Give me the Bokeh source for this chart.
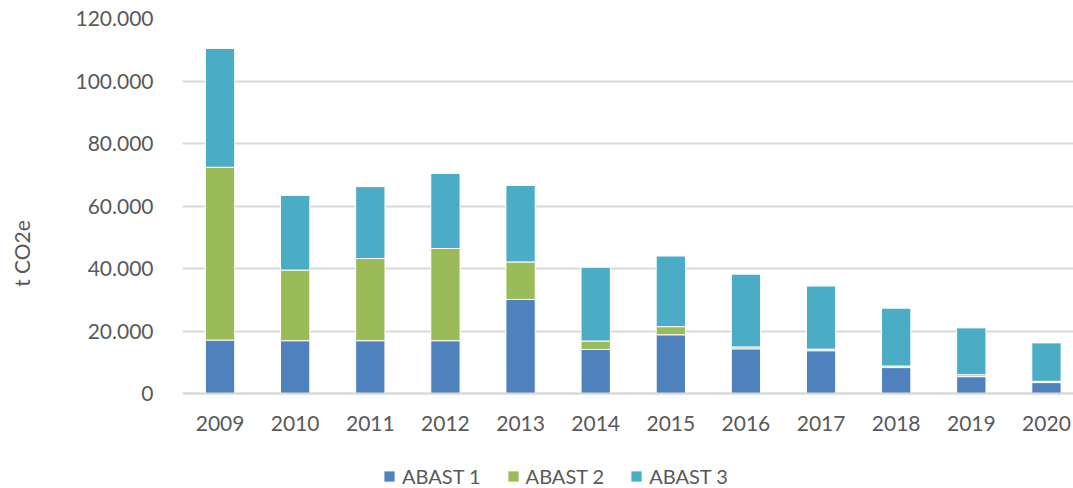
from bokeh.plotting import figure
from bokeh.models import ColumnDataSource, Range1d, FixedTicker, Legend, LegendItem
from bokeh.embed import file_html
from bokeh.resources import INLINE

years = ["2009", "2010", "2011", "2012", "2013", "2014", "2015", "2016", "2017", "2018", "2019", "2020"]
abast1 = [17100, 16900, 16900, 16900, 30100, 14100, 18800, 14300, 13700, 8300, 5400, 3500]
abast2 = [55300, 22600, 26300, 29500, 12000, 2700, 2600, 600, 500, 500, 600, 400]
abast3 = [38000, 23900, 23000, 24000, 24500, 23600, 22600, 23300, 20200, 18500, 15000, 12300]
series = ["ABAST 1", "ABAST 2", "ABAST 3"]
colors = ["#4F81BD", "#9BBB59", "#4BACC6"]
y_ticks = [0, 20000, 40000, 60000, 80000, 100000, 120000]
y_tick_labels = ["0", "20.000", "40.000", "60.000", "80.000", "100.000", "120.000"]

FONT = "Lato"
TXT = "#595959"
GRID = "#D9D9D9"

xs = list(range(len(years)))
src = ColumnDataSource(dict(x=xs, a1=abast1, a2=abast2, a3=abast3))

p = figure(width=1073, height=488, output_backend="svg", toolbar_location=None,
           x_range=Range1d(-0.5, 11.36), y_range=Range1d(-30400, 120000),
           min_border_left=182, min_border_right=0, min_border_top=18, min_border_bottom=0)
p.outline_line_color = None
p.background_fill_color = "white"
p.border_fill_color = "white"

renderers = p.vbar_stack(["a1", "a2", "a3"], x="x", width=0.39, source=src,
                         color=colors, line_color="white", line_width=1)

p.xgrid.visible = False
p.ygrid.ticker = FixedTicker(ticks=y_ticks)
p.ygrid.grid_line_color = GRID
p.ygrid.grid_line_width = 2

p.yaxis.ticker = FixedTicker(ticks=y_ticks)
p.yaxis.major_label_overrides = {t: l for t, l in zip(y_ticks, y_tick_labels)}
p.yaxis.axis_line_color = None
p.yaxis.major_tick_line_color = None
p.yaxis.minor_tick_line_color = None
p.yaxis.major_label_standoff = 23
p.yaxis.major_label_text_font = FONT
p.yaxis.major_label_text_font_size = "21px"
p.yaxis.major_label_text_color = TXT
p.yaxis.axis_label = "t CO2e"
p.yaxis.axis_label_text_font = FONT
p.yaxis.axis_label_text_font_size = "21px"
p.yaxis.axis_label_text_font_style = "normal"
p.yaxis.axis_label_text_color = TXT
p.yaxis.axis_label_standoff = 38

p.xaxis.fixed_location = 0
p.xaxis.ticker = FixedTicker(ticks=xs)
p.xaxis.major_label_overrides = {i: y for i, y in zip(xs, years)}
p.xaxis.axis_line_color = GRID
p.xaxis.axis_line_width = 2
p.xaxis.major_tick_line_color = None
p.xaxis.minor_tick_line_color = None
p.xaxis.major_label_standoff = 16
p.xaxis.major_label_text_font = FONT
p.xaxis.major_label_text_font_size = "21px"
p.xaxis.major_label_text_color = TXT

legend = Legend(items=[LegendItem(label=s, renderers=[r]) for s, r in zip(series, renderers)],
                orientation="horizontal", location=(200, 0),
                padding=0, margin=0, spacing=25, label_standoff=6,
                glyph_width=14, glyph_height=14, label_height=20,
                label_text_font=FONT, label_text_font_size="20px", label_text_color=TXT,
                border_line_color=None, background_fill_alpha=0)
p.add_layout(legend, "center")

open("out.html", "w").write(file_html(p, INLINE))
